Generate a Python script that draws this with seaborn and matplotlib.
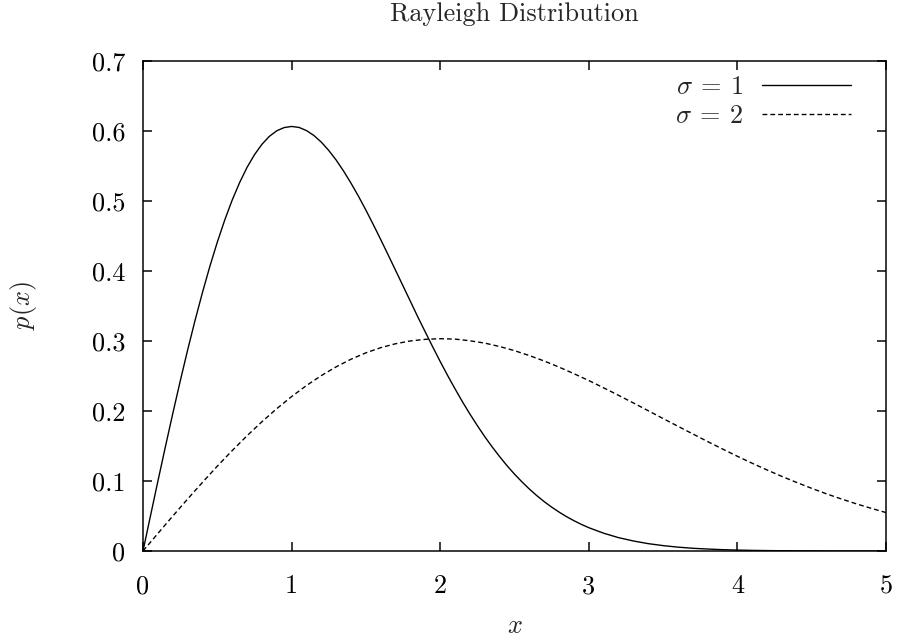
import matplotlib
matplotlib.use("Agg")
import matplotlib.pyplot as plt
import numpy as np
import pandas as pd
import seaborn as sns

# Values
x_sigma1 = [
    0.0, 0.05, 0.1, 0.15, 0.2, 0.25, 0.3, 0.35, 0.4, 0.45,
    0.5, 0.55, 0.6, 0.65, 0.7, 0.75, 0.8, 0.85, 0.9, 0.95,
    1.0, 1.05, 1.1, 1.15, 1.2, 1.25, 1.3, 1.35, 1.4, 1.45,
    1.5, 1.55, 1.6, 1.65, 1.7, 1.75, 1.8, 1.85, 1.9, 1.95,
    2.0, 2.05, 2.1, 2.15, 2.2, 2.25, 2.3, 2.35, 2.4, 2.45,
    2.5, 2.55, 2.6, 2.65, 2.7, 2.75, 2.8, 2.85, 2.9, 2.95,
    3.0, 3.1, 3.2, 3.3, 3.4, 3.5, 3.6, 3.7, 3.8, 3.9,
    4.0, 4.1, 4.2, 4.3, 4.4, 4.5, 4.6, 4.7, 4.8, 4.9, 5.0,
]
p_sigma1 = [
    0.0, 0.0499, 0.0995, 0.1483, 0.1960, 0.2423, 0.2868, 0.3292, 0.3692, 0.4067,
    0.4412, 0.4728, 0.5012, 0.5262, 0.5480, 0.5661, 0.5809, 0.5923, 0.6003, 0.6049,
    0.6065, 0.6051, 0.6006, 0.5936, 0.5841, 0.5722, 0.5585, 0.5427, 0.5254, 0.5068,
    0.4870, 0.4662, 0.4448, 0.4229, 0.4008, 0.3786, 0.3564, 0.3341, 0.3127, 0.2914,
    0.2707, 0.2507, 0.2316, 0.2131, 0.1956, 0.1791, 0.1633, 0.1486, 0.1348, 0.1218,
    0.1098, 0.0988, 0.0885, 0.0791, 0.0705, 0.0627, 0.0556, 0.0491, 0.0433, 0.0380,
    0.0333, 0.0254, 0.0191, 0.0143, 0.0105, 0.0077, 0.0055, 0.0039, 0.0028, 0.0019,
    0.0013, 0.0009, 0.0006, 0.0004, 0.0003, 0.0002, 0.0001, 0.0001, 0.0001, 0.0, 0.0,
]
x_sigma2 = [
    0.0, 0.1, 0.2, 0.3, 0.4, 0.5, 0.6, 0.7, 0.8, 0.9,
    1.0, 1.1, 1.2, 1.3, 1.4, 1.5, 1.6, 1.7, 1.8, 1.9,
    2.0, 2.1, 2.2, 2.3, 2.4, 2.5, 2.6, 2.7, 2.8, 2.9,
    3.0, 3.1, 3.2, 3.3, 3.4, 3.5, 3.6, 3.7, 3.8, 3.9,
    4.0, 4.1, 4.2, 4.3, 4.4, 4.5, 4.6, 4.7, 4.8, 4.9, 5.0,
]
p_sigma2 = [
    0.0, 0.0250, 0.0498, 0.0742, 0.0980, 0.1212, 0.1434, 0.1646, 0.1846, 0.2033,
    0.2206, 0.2364, 0.2506, 0.2631, 0.2740, 0.2831, 0.2905, 0.2961, 0.3001, 0.3024,
    0.3033, 0.3027, 0.3003, 0.2970, 0.2921, 0.2862, 0.2792, 0.2714, 0.2627, 0.2533,
    0.2435, 0.2331, 0.2224, 0.2115, 0.2004, 0.1892, 0.1782, 0.1672, 0.1563, 0.1457,
    0.1353, 0.1253, 0.1157, 0.1065, 0.0978, 0.0895, 0.0816, 0.0743, 0.0674, 0.0610, 0.0549,
]
series_labels = [r"$\sigma\:=\:1$", r"$\sigma\:=\:2$"]
x_ticks = [0, 1, 2, 3, 4, 5]
y_ticks = [0, 0.1, 0.2, 0.3, 0.4, 0.5, 0.6, 0.7]
y_tick_labels = ["0", "0.1", "0.2", "0.3", "0.4", "0.5", "0.6", "0.7"]

FS = 10.5

sns.set_theme(style="ticks")
plt.rcParams.update({
    "font.family": ["cmr10", "DejaVu Serif"],
    "mathtext.fontset": "cm",
    "axes.formatter.use_mathtext": True,
    "font.size": FS,
    "axes.linewidth": 0.6,
    "axes.edgecolor": "black",
    "xtick.direction": "in",
    "ytick.direction": "in",
    "xtick.major.size": 3.6,
    "ytick.major.size": 3.6,
    "xtick.major.width": 0.6,
    "ytick.major.width": 0.6,
    "xtick.color": "black",
    "ytick.color": "black",
    "xtick.top": True,
    "ytick.right": True,
    "xtick.labelsize": FS,
    "ytick.labelsize": FS,
})

df = pd.concat([
    pd.DataFrame({"x": x_sigma1, "p": p_sigma1, "sigma": series_labels[0]}),
    pd.DataFrame({"x": x_sigma2, "p": p_sigma2, "sigma": series_labels[1]}),
], ignore_index=True)

fig = plt.figure(figsize=(899 / 180, 637 / 180), dpi=180)
ax = fig.add_axes([143 / 899, 1 - 551 / 637, 743 / 899, 490 / 637])

sns.lineplot(
    data=df, x="x", y="p", style="sigma", style_order=series_labels,
    dashes={series_labels[0]: "", series_labels[1]: (3.5, 2.2)},
    color="black", linewidth=0.55, ax=ax,
)

ax.set_xlim(0, 5)
ax.set_ylim(0, 0.7)
ax.set_xticks(x_ticks)
ax.set_xticklabels([str(t) for t in x_ticks])
ax.set_yticks(y_ticks)
ax.set_yticklabels(y_tick_labels)
ax.tick_params(axis="x", pad=9.5)
ax.tick_params(axis="y", pad=7)
for side in ["top", "right", "left", "bottom"]:
    ax.spines[side].set_visible(True)

ax.set_title("Rayleigh Distribution", fontsize=FS, pad=16)
ax.set_xlabel(r"$x$", fontsize=FS)
ax.xaxis.label.set_va("center")
ax.xaxis.set_label_coords(0.5, -0.153)
ax.set_ylabel(r"$p(x)$", fontsize=FS)
ax.yaxis.label.set_va("center")
ax.yaxis.label.set_ha("center")
ax.yaxis.set_label_coords(-0.1615, 0.5)

handles, labels = ax.get_legend_handles_labels()
ax.legend(handles, labels, loc="upper right", bbox_to_anchor=(0.953, 0.97),
          frameon=False, markerfirst=False, borderpad=0, borderaxespad=0,
          handlelength=3.4, handletextpad=0.7, labelspacing=0.2, fontsize=FS)

fig.savefig("out.png", dpi=180)
